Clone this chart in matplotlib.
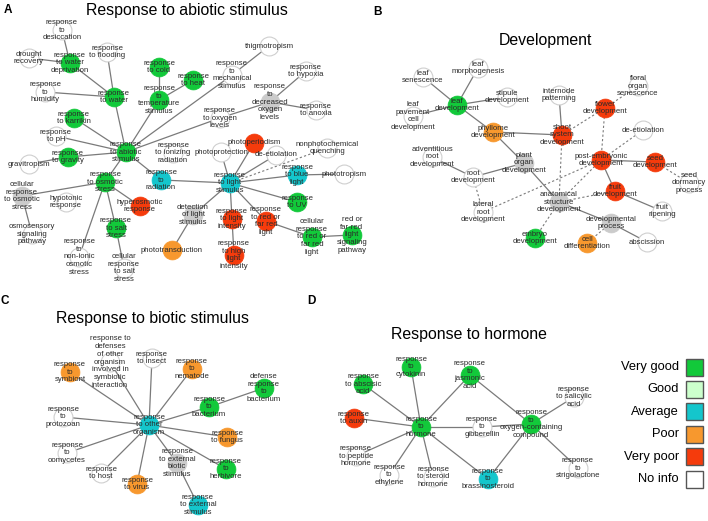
import matplotlib
matplotlib.use("Agg")
import matplotlib.pyplot as plt
from matplotlib.patches import Rectangle

plt.rcParams['font.family'] = ['Liberation Sans', 'DejaVu Sans']

# ---------------- data ----------------
STATUS_COLORS = {
    'vg': '#12c93a', 'g': '#ccffcc', 'avg': '#14c6cc', 'poor': '#f7982e',
    'vp': '#f53b0c', 'none': '#ffffff', 'gray': '#cbcbcb',
}
legend_labels = ['Very good', 'Good', 'Average', 'Poor', 'Very poor', 'No info']
legend_status = ['vg', 'g', 'avg', 'poor', 'vp', 'none']

panel_titles = ['Response to abiotic stimulus', 'Development',
                'Response to biotic stimulus', 'Response to hormone']
panel_letters = ['A', 'B', 'C', 'D']

# (key, label, status)
nodes_A = [
    ('desic', 'response\nto\ndesiccation', 'none'),
    ('drought', 'drought\nrecovery', 'none'),
    ('waterdep', 'response\nto water\ndeprivation', 'vg'),
    ('flood', 'response\nto flooding', 'none'),
    ('cold', 'response\nto cold', 'vg'),
    ('heat', 'response\nto heat', 'vg'),
    ('humid', 'response\nto\nhumidity', 'none'),
    ('water', 'response\nto water', 'vg'),
    ('temp', 'response\nto\ntemperature\nstimulus', 'vg'),
    ('karrikin', 'response\nto karrikin', 'vg'),
    ('ph', 'response\nto pH', 'none'),
    ('abiotic', 'response\nto abiotic\nstimulus', 'vg'),
    ('gravity', 'response\nto gravity', 'vg'),
    ('gravitro', 'gravitropism', 'none'),
    ('mech', 'response\nto\nmechanical\nstimulus', 'none'),
    ('thigmo', 'thigmotropism', 'none'),
    ('hypoxia', 'response\nto hypoxia', 'none'),
    ('decox', 'response\nto\ndecreased\noxygen\nlevels', 'gray'),
    ('anoxia', 'response\nto anoxia', 'none'),
    ('oxlev', 'response\nto oxygen\nlevels', 'none'),
    ('photoper', 'photoperiodism', 'vp'),
    ('photoprot', 'photoprotection', 'none'),
    ('npq', 'nonphotochemical\nquenching', 'none'),
    ('deetiol', 'de-etiolation', 'none'),
    ('ioniz', 'response\nto ionizing\nradiation', 'none'),
    ('radiation', 'response\nto\nradiation', 'avg'),
    ('light', 'response\nto light\nstimulus', 'avg'),
    ('blue', 'response\nto blue\nlight', 'avg'),
    ('phototrop', 'phototropism', 'none'),
    ('uv', 'response\nto UV', 'vg'),
    ('osmotic', 'response\nto osmotic\nstress', 'vg'),
    ('cellosm', 'cellular\nresponse\nto osmotic\nstress', 'gray'),
    ('hypoton', 'hypotonic\nresponse', 'none'),
    ('hyperosm', 'hyperosmotic\nresponse', 'vp'),
    ('osmosens', 'osmosensory\nsignaling\npathway', 'none'),
    ('salt', 'response\nto salt\nstress', 'vg'),
    ('nonionic', 'response\nto\nnon-ionic\nosmotic\nstress', 'none'),
    ('cellsalt', 'cellular\nresponse\nto salt\nstress', 'none'),
    ('detlight', 'detection\nof light\nstimulus', 'gray'),
    ('phototrans', 'phototransduction', 'poor'),
    ('lightint', 'response\nto light\nintensity', 'vp'),
    ('highlight', 'response\nto high\nlight\nintensity', 'vp'),
    ('redfar', 'response\nto red or\nfar red\nlight', 'vp'),
    ('cellred', 'cellular\nresponse\nto red or\nfar red\nlight', 'vg'),
    ('redsig', 'red or\nfar-red\nlight\nsignaling\npathway', 'vg'),
]
edges_A = [
    ('desic', 'waterdep', '-'), ('drought', 'waterdep', '-'), ('waterdep', 'water', '-'),
    ('flood', 'water', '-'), ('humid', 'water', '-'), ('water', 'abiotic', '-'),
    ('cold', 'temp', '-'), ('heat', 'temp', '-'), ('temp', 'abiotic', '-'),
    ('mech', 'abiotic', '-'), ('thigmo', 'mech', '-'), ('karrikin', 'abiotic', '-'),
    ('ph', 'abiotic', '-'), ('gravity', 'abiotic', '-'), ('gravitro', 'gravity', '-'),
    ('oxlev', 'abiotic', '-'), ('decox', 'oxlev', '-'), ('hypoxia', 'decox', '-'),
    ('anoxia', 'decox', '-'), ('abiotic', 'radiation', '-'), ('radiation', 'light', '-'),
    ('osmotic', 'abiotic', '-'), ('photoprot', 'light', '-'), ('photoper', 'light', '-'),
    ('deetiol', 'light', '-'), ('npq', 'light', '--'), ('blue', 'light', '-'),
    ('phototrop', 'blue', '-'), ('uv', 'light', '-'), ('detlight', 'light', '-'),
    ('phototrans', 'detlight', '-'), ('lightint', 'light', '-'),
    ('highlight', 'lightint', '-'), ('redfar', 'light', '-'), ('cellred', 'redfar', '-'),
    ('redsig', 'cellred', '-'), ('osmotic', 'cellosm', '-'), ('cellosm', 'osmosens', '-'),
    ('osmotic', 'hyperosm', '-'), ('osmotic', 'salt', '-'), ('osmotic', 'nonionic', '-'),
    ('salt', 'cellsalt', '-'),
]

nodes_B = [
    ('leafsen', 'leaf\nsenescence', 'none'),
    ('leafmorph', 'leaf\nmorphogenesis', 'none'),
    ('leafdev', 'leaf\ndevelopment', 'vg'),
    ('stipule', 'stipule\ndevelopment', 'none'),
    ('pavement', 'leaf\npavement\ncell\ndevelopment', 'none'),
    ('phyllome', 'phyllome\ndevelopment', 'poor'),
    ('internode', 'internode\npatterning', 'none'),
    ('flower', 'flower\ndevelopment', 'vp'),
    ('floral', 'floral\norgan\nsenescence', 'none'),
    ('shoot', 'shoot\nsystem\ndevelopment', 'vp'),
    ('deetiolB', 'de-etiolation', 'none'),
    ('advroot', 'adventitious\nroot\ndevelopment', 'none'),
    ('plantorg', 'plant\norgan\ndevelopment', 'gray'),
    ('rootdev', 'root\ndevelopment', 'none'),
    ('postemb', 'post-embryonic\ndevelopment', 'vp'),
    ('seed', 'seed\ndevelopment', 'vp'),
    ('seeddorm', 'seed\ndormancy\nprocess', 'none'),
    ('fruit', 'fruit\ndevelopment', 'vp'),
    ('fruitrip', 'fruit\nripening', 'none'),
    ('latroot', 'lateral\nroot\ndevelopment', 'none'),
    ('anat', 'anatomical\nstructure\ndevelopment', 'gray'),
    ('devproc', 'developmental\nprocess', 'gray'),
    ('embryo', 'embryo\ndevelopment', 'vg'),
    ('celldiff', 'cell\ndifferentiation', 'poor'),
    ('absc', 'abscission', 'none'),
]
edges_B = [
    ('leafsen', 'leafdev', '-'), ('leafmorph', 'leafdev', '-'), ('stipule', 'leafdev', '-'),
    ('pavement', 'leafdev', '-'), ('leafdev', 'phyllome', '-'), ('phyllome', 'shoot', '-'),
    ('internode', 'shoot', '-'), ('phyllome', 'plantorg', '-'), ('plantorg', 'rootdev', '-'),
    ('advroot', 'rootdev', '-'), ('rootdev', 'latroot', '--'), ('plantorg', 'anat', '-'),
    ('shoot', 'flower', '--'), ('shoot', 'anat', '--'), ('flower', 'floral', '--'),
    ('flower', 'postemb', '--'), ('postemb', 'deetiolB', '--'), ('postemb', 'seed', '-'),
    ('seed', 'seeddorm', '--'), ('postemb', 'fruit', '-'), ('postemb', 'anat', '--'),
    ('latroot', 'postemb', '--'), ('fruit', 'fruitrip', '-'), ('fruit', 'anat', '--'),
    ('anat', 'devproc', '-'), ('devproc', 'absc', '-'), ('devproc', 'celldiff', '--'),
    ('anat', 'embryo', '--'),
]

nodes_C = [
    ('defsym', 'response to\ndefenses\nof other\norganism\ninvolved in\nsymbiotic\ninteraction', 'none'),
    ('insect', 'response\nto insect', 'none'),
    ('symbiont', 'response\nto\nsymbiont', 'poor'),
    ('nematode', 'response\nto\nnematode', 'poor'),
    ('defbact', 'defense\nresponse\nto\nbacterium', 'vg'),
    ('bact', 'response\nto\nbacterium', 'vg'),
    ('protozoan', 'response\nto\nprotozoan', 'none'),
    ('other', 'response\nto other\norganism', 'avg'),
    ('fungus', 'response\nto fungus', 'poor'),
    ('oomycetes', 'response\nto\noomycetes', 'none'),
    ('extbiotic', 'response\nto external\nbiotic\nstimulus', 'gray'),
    ('herbivore', 'response\nto\nherbivore', 'vg'),
    ('host', 'response\nto host', 'none'),
    ('virus', 'response\nto virus', 'poor'),
    ('extstim', 'response\nto external\nstimulus', 'avg'),
]
edges_C = [
    ('other', k, '-') for k in ['symbiont', 'defsym', 'insect', 'nematode', 'bact',
                                'protozoan', 'fungus', 'oomycetes', 'herbivore',
                                'host', 'virus', 'extbiotic']
] + [('bact', 'defbact', '-'), ('extbiotic', 'extstim', '-')]

nodes_D = [
    ('cyto', 'response\nto\ncytokinin', 'vg'),
    ('jasm', 'response\nto\njasmonic\nacid', 'vg'),
    ('aba', 'response\nto abscisic\nacid', 'vg'),
    ('auxin', 'response\nto auxin', 'vp'),
    ('hormone', 'response\nto\nhormone', 'vg'),
    ('gibb', 'response\nto\ngibberellin', 'none'),
    ('oxycomp', 'response\nto\noxygen-containing\ncompound', 'vg'),
    ('salic', 'response\nto salicylic\nacid', 'none'),
    ('peptide', 'response\nto peptide\nhormone', 'none'),
    ('ethyl', 'response\nto\nethylene', 'none'),
    ('steroid', 'response\nto steroid\nhormone', 'none'),
    ('brass', 'response\nto\nbrassinosteroid', 'avg'),
    ('strigo', 'response\nto\nstrigolactone', 'none'),
]
edges_D = [
    ('hormone', k, '-') for k in ['cyto', 'jasm', 'aba', 'auxin', 'peptide', 'ethyl',
                                  'steroid', 'brass', 'gibb']
] + [('oxycomp', k, '-') for k in ['jasm', 'gibb', 'salic', 'strigo', 'brass']]

# ---------------- layout (pixel positions of the drawing) ----------------
layout = {
    # panel A
    'desic': (62, 30), 'drought': (29, 58), 'waterdep': (70, 63), 'flood': (107, 52),
    'cold': (159, 67), 'heat': (193, 80), 'humid': (45, 92), 'water': (114, 97),
    'temp': (159, 100), 'karrikin': (74, 118), 'ph': (56, 136), 'abiotic': (126, 152),
    'gravity': (68, 157), 'gravitro': (29, 164), 'mech': (232, 75), 'thigmo': (269, 46),
    'hypoxia': (306, 71), 'decox': (270, 102), 'anoxia': (316, 110), 'oxlev': (220, 118),
    'photoper': (254, 143), 'photoprot': (221, 152), 'npq': (327, 148), 'deetiol': (276, 155),
    'ioniz': (173, 153), 'radiation': (161, 180), 'light': (230, 183), 'blue': (297, 175),
    'phototrop': (344, 174), 'uv': (297, 202), 'osmotic': (105, 182), 'cellosm': (22, 196),
    'hypoton': (66, 202), 'hyperosm': (140, 206), 'osmosens': (32, 234), 'salt': (116, 228),
    'nonionic': (79, 257), 'cellsalt': (124, 268), 'detlight': (193, 215),
    'phototrans': (172, 250), 'lightint': (232, 219), 'highlight': (234, 255),
    'redfar': (266, 221), 'cellred': (312, 237), 'redsig': (352, 235),
    # panel B
    'leafsen': (423, 77), 'leafmorph': (478, 68), 'leafdev': (457, 105), 'stipule': (507, 97),
    'pavement': (413, 116), 'phyllome': (493, 132), 'internode': (559, 95),
    'flower': (605, 108), 'floral': (638, 86), 'shoot': (562, 135), 'deetiolB': (643, 130),
    'advroot': (432, 157), 'plantorg': (524, 163), 'rootdev': (473, 177),
    'postemb': (601, 160), 'seed': (655, 162), 'seeddorm': (689, 183), 'fruit': (615, 191),
    'fruitrip': (662, 211), 'latroot': (483, 212), 'anat': (559, 202), 'devproc': (611, 223),
    'embryo': (535, 238), 'celldiff': (587, 243), 'absc': (647, 242),
    # panel C
    'defsym': (110, 362), 'insect': (152, 358), 'symbiont': (70, 372), 'nematode': (192, 369),
    'defbact': (264, 388), 'bact': (209, 407), 'protozoan': (63, 417), 'other': (149, 425),
    'fungus': (227, 437), 'oomycetes': (67, 453), 'extbiotic': (177, 463),
    'herbivore': (226, 469), 'host': (101, 473), 'virus': (137, 484), 'extstim': (198, 505),
    # panel D
    'cyto': (411, 367), 'jasm': (470, 375), 'aba': (363, 384), 'auxin': (354, 418),
    'hormone': (421, 427), 'gibb': (482, 427), 'oxycomp': (531, 424), 'salic': (574, 397),
    'peptide': (356, 456), 'ethyl': (389, 475), 'steroid': (433, 477), 'brass': (488, 479),
    'strigo': (578, 468),
}
title_pos = [(187, 10), (545, 41), (152, 318), (469, 334)]
letter_pos = [(8, 10), (378, 12), (5, 301), (311, 301)]

# ---------------- drawing ----------------
W, H = 708, 521
fig = plt.figure(figsize=(W / 100, H / 100), dpi=100)
ax = fig.add_axes([0, 0, 1, 1])
ax.set_xlim(0, W)
ax.set_ylim(H, 0)
ax.axis('off')

EDGE_COL = '#7a7a7a'
TEXT_COL = '#2a2a2a'
NODE_S = 185

for nodes, edges in [(nodes_A, edges_A), (nodes_B, edges_B),
                     (nodes_C, edges_C), (nodes_D, edges_D)]:
    for a, b, ls in edges:
        xa, ya = layout[a]
        xb, yb = layout[b]
        if ls == '--':
            ax.plot([xa, xb], [ya, yb], color=EDGE_COL, lw=0.8,
                    linestyle=(0, (2, 2)), zorder=1)
        else:
            ax.plot([xa, xb], [ya, yb], color=EDGE_COL, lw=0.9, zorder=1)
    for key, label, st in nodes:
        x, y = layout[key]
        if st == 'none':
            ax.scatter([x], [y], s=NODE_S, facecolor='white', edgecolor='#cfcfcf',
                       linewidth=0.8, zorder=2)
        else:
            ax.scatter([x], [y], s=NODE_S, facecolor=STATUS_COLORS[st],
                       edgecolor=STATUS_COLORS[st], linewidth=0.5, zorder=2)
    for key, label, st in nodes:
        x, y = layout[key]
        ax.text(x, y, label, ha='center', va='center', multialignment='center',
                fontsize=5.6, color=TEXT_COL, linespacing=1.15, zorder=3)

for t, (x, y) in zip(panel_titles, title_pos):
    ax.text(x, y, t, ha='center', va='center', fontsize=11.4, color='black')
for t, (x, y) in zip(panel_letters, letter_pos):
    ax.text(x, y, t, ha='center', va='center', fontsize=8.5, fontweight='bold',
            color='black')

# legend
leg_y0, leg_dy = 367, 22.4
for i, (lab, st) in enumerate(zip(legend_labels, legend_status)):
    y = leg_y0 + i * leg_dy
    ax.add_patch(Rectangle((686, y - 8.5), 17, 17, facecolor=STATUS_COLORS[st],
                           edgecolor='#555555', linewidth=1.0, zorder=3))
    ax.text(679, y, lab, ha='right', va='center', fontsize=9.3, color='black')

fig.savefig('out.png', dpi=100)
